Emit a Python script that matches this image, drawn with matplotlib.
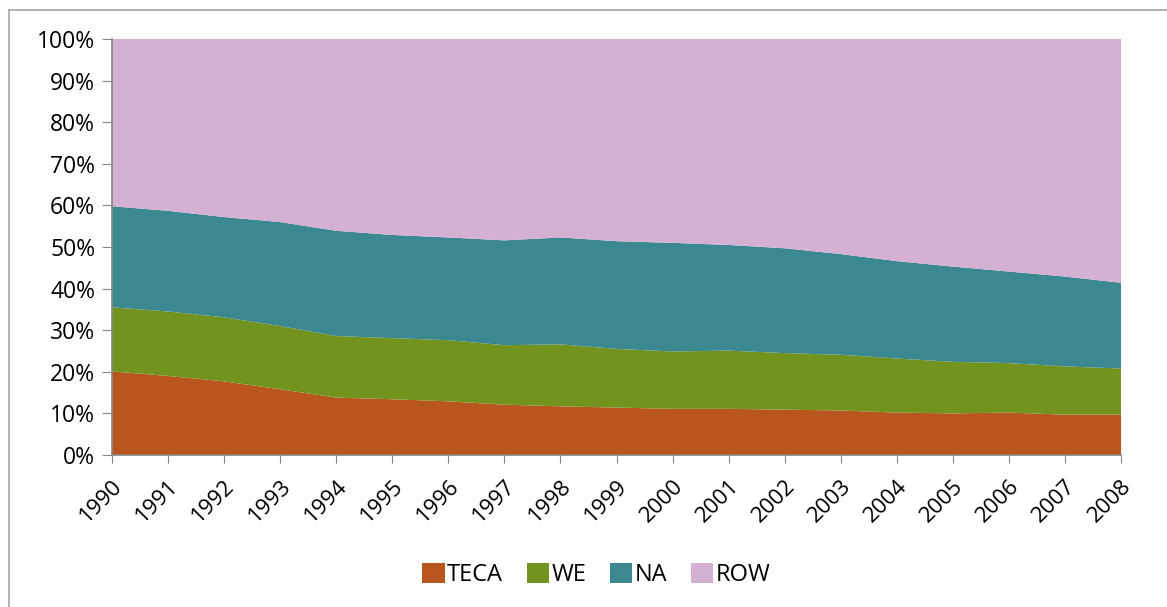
import numpy as np
import matplotlib
matplotlib.use("Agg")
import matplotlib.pyplot as plt
from matplotlib.lines import Line2D
from matplotlib.ticker import FuncFormatter

years = list(range(1990, 2009))

# shares in percent
teca = [20.1, 19.0, 17.7, 15.8, 13.8, 13.4, 12.9, 12.1, 11.7, 11.4,
        11.1, 11.1, 10.9, 10.7, 10.2, 10.0, 10.2, 9.7, 9.7]
we = [15.4, 15.5, 15.4, 15.2, 14.8, 14.7, 14.7, 14.3, 14.9, 14.1,
      13.8, 14.0, 13.6, 13.4, 13.0, 12.4, 11.9, 11.6, 11.1]
na = [24.3, 24.2, 24.1, 25.0, 25.3, 24.8, 24.7, 25.2, 25.7, 25.9,
      26.1, 25.4, 25.2, 24.2, 23.4, 22.9, 22.0, 21.6, 20.6]
row = [40.2, 41.3, 42.8, 44.0, 46.1, 47.1, 47.7, 48.4, 47.7, 48.6,
       49.0, 49.5, 50.3, 51.7, 53.4, 54.7, 55.9, 57.1, 58.6]

labels = ["TECA", "WE", "NA", "ROW"]
colors = ["#B8561D", "#72941E", "#3C8890", "#D4B0D2"]

plt.rcParams["font.family"] = ["Open Sans", "DejaVu Sans"]

fig = plt.figure(figsize=(11.67, 6.07), dpi=100)
ax = fig.add_axes([0.096, 0.2504, 0.8646, 0.6853])

data = np.array([teca, we, na, row], dtype=float)
data = data / data.sum(axis=0) * 100
ax.stackplot(years, data, labels=labels, colors=colors, linewidth=0)

ax.set_xlim(1990, 2008)
ax.set_ylim(0, 100)
ax.set_xticks(years)
ax.set_xticklabels([str(y) for y in years], rotation=45, ha="right",
                   rotation_mode="anchor", fontsize=16)
ax.set_yticks(range(0, 101, 10))
ax.yaxis.set_major_formatter(FuncFormatter(lambda v, p: f"{int(v)}%"))
ax.tick_params(axis="y", labelsize=16.5, length=7, color="#868686", pad=5)
ax.tick_params(axis="x", length=6, color="#868686", pad=9)

for side in ["top", "right"]:
    ax.spines[side].set_visible(False)
for side in ["left", "bottom"]:
    ax.spines[side].set_color("#868686")
    ax.spines[side].set_linewidth(1.2)

leg = ax.legend(loc="center", bbox_to_anchor=(0.511, 0.053),
                bbox_transform=fig.transFigure, ncol=4, frameon=False,
                fontsize=17, handlelength=0.95, handleheight=0.95,
                handletextpad=0.1, columnspacing=1.0)

# outer chart frame (only top and left edges are visible)
fig.add_artist(Line2D([0.0077, 1.0], [0.9835, 0.9835],
                      transform=fig.transFigure, color="#A6A6A6", lw=1.2))
fig.add_artist(Line2D([0.0077, 0.0077], [0.0, 0.9835],
                      transform=fig.transFigure, color="#A6A6A6", lw=1.2))

fig.savefig("out.png", dpi=100)
